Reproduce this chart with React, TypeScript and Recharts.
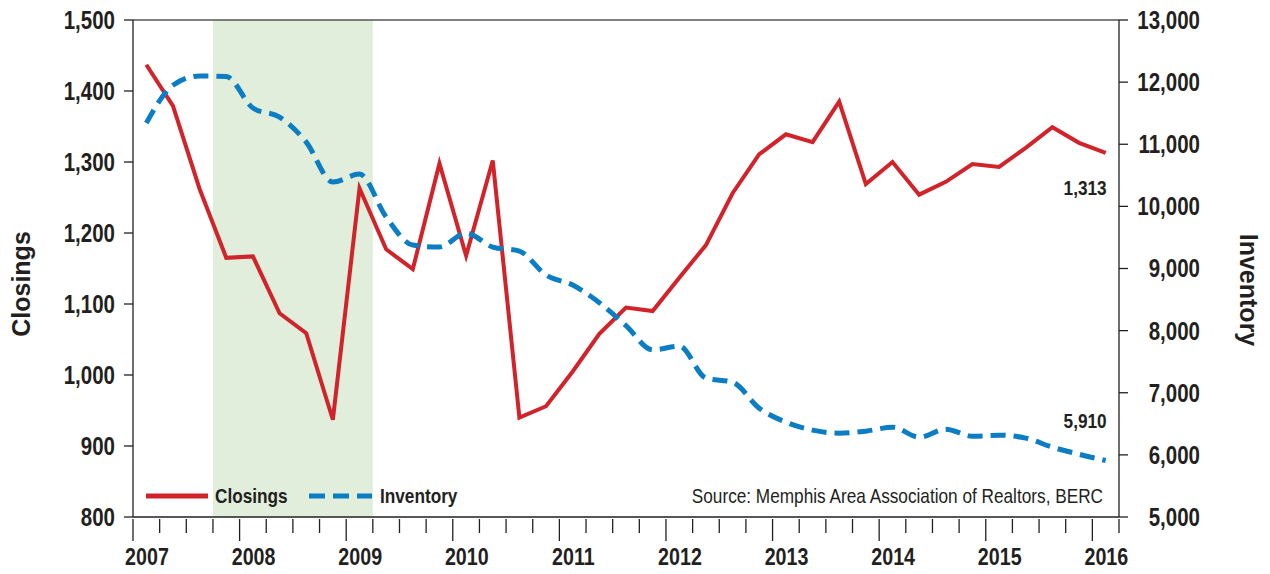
import { ComposedChart, Line, XAxis, YAxis, ReferenceArea, ReferenceLine, ReferenceDot } from 'recharts'

const SANS = '"Liberation Sans", Arial, Helvetica, sans-serif'
const SQUEEZE = 0.82 // no condensed face installed, so squeeze Liberation Sans
const INK = '#231F20'
const RED = '#D2232A'
const BLUE = '#0A7DC4'
const SHADE = '#E1EEDC'

// quarterly points, Q1 2007 .. Q1 2016
const quarters = [
  '2007Q1', '2007Q2', '2007Q3', '2007Q4',
  '2008Q1', '2008Q2', '2008Q3', '2008Q4',
  '2009Q1', '2009Q2', '2009Q3', '2009Q4',
  '2010Q1', '2010Q2', '2010Q3', '2010Q4',
  '2011Q1', '2011Q2', '2011Q3', '2011Q4',
  '2012Q1', '2012Q2', '2012Q3', '2012Q4',
  '2013Q1', '2013Q2', '2013Q3', '2013Q4',
  '2014Q1', '2014Q2', '2014Q3', '2014Q4',
  '2015Q1', '2015Q2', '2015Q3', '2015Q4',
  '2016Q1',
]

const closings = [
  1437, 1379, 1262, 1165, 1167, 1087, 1059, 937, 1263, 1177, 1149, 1298,
  1168, 1302, 940, 956, 1005, 1058, 1095, 1090, 1137, 1183, 1256, 1311,
  1339, 1328, 1385, 1269, 1300, 1254, 1272, 1297, 1293, 1320, 1349, 1327, 1313,
]

const inventory = [
  11341, 11950, 12100, 12090, 11583, 11438, 11035, 10391, 10520, 9828, 9377, 9345,
  9570, 9345, 9280, 8894, 8733, 8450, 8080, 7690, 7750, 7235, 7170, 6752,
  6527, 6398, 6350, 6382, 6446, 6285, 6414, 6300, 6317, 6270, 6124, 6010, 5910,
]

const closingTicks = [800, 900, 1000, 1100, 1200, 1300, 1400, 1500]
const inventoryTicks = [5000, 6000, 7000, 8000, 9000, 10000, 11000, 12000, 13000]
const recession = ['2007Q4', '2009Q1']

const qTime = (q: string) => Number(q.slice(0, 4)) + (Number(q.slice(5)) - 0.5) / 4
const data = quarters.map((q, i) => ({ t: qTime(q), closings: closings[i], inventory: inventory[i] }))
const xTicks = [...quarters.map(q => qTime(q) - 0.125), qTime(quarters[quarters.length - 1]) + 0.125]
const xDomain = [xTicks[0], xTicks[xTicks.length - 1]]
const last = data[data.length - 1]

const fmt = (v: number) => v.toLocaleString('en-US')

// condensed-looking text: Liberation Sans squeezed horizontally
const Narrow = ({ x, y, anchor = 'start', size, bold = true, dy, children }: any) => (
  <text transform={`translate(${x},${y}) scale(${SQUEEZE},1)`} x={0} y={0} dy={dy}
    textAnchor={anchor} fill={INK}
    style={{ fontFamily: SANS, fontSize: size, fontWeight: bold ? 700 : 400 }}>
    {children}
  </text>
)

const XTick = ({ x, y, payload }: any) => {
  const v = payload.value
  const major = Math.abs(v - Math.round(v)) < 1e-6
  return (
    <g>
      <line x1={x} x2={x} y1={y + 2} y2={y + (major ? 24 : 16)} stroke={INK} strokeWidth={1.3} />
      {major && <Narrow x={x + 14} y={y + 48} anchor="middle" size={24}>{Math.round(v)}</Narrow>}
    </g>
  )
}

const LeftTick = ({ x, y, payload }: any) => (
  <Narrow x={x} y={y} dy="0.355em" anchor="end" size={25}>{fmt(payload.value)}</Narrow>
)

const RightTick = ({ x, y, payload }: any) => (
  <Narrow x={x + 64} y={y} dy="0.355em" anchor="end" size={25}>{fmt(payload.value)}</Narrow>
)

const note = (text: string, dx: number, dy: number) => (p: any) => (
  <Narrow x={p.viewBox.x + dx} y={p.viewBox.y + dy} anchor="end" size={21}>{text}</Narrow>
)

export default function App() {
  return (
    <div style={{ position: 'absolute', left: 0, top: 0, width: 1270, height: 574, background: '#fff' }}>
      <ComposedChart width={1270} height={574} data={data} margin={{ top: 20, right: 0, bottom: 0, left: 0 }}>
        <XAxis dataKey="t" type="number" domain={xDomain} ticks={xTicks} interval={0}
          tick={<XTick />} tickLine={false} tickSize={0} tickMargin={0} height={57}
          axisLine={{ stroke: INK, strokeWidth: 1.3 }} allowDataOverflow />
        <YAxis yAxisId="l" domain={[800, 1500]} ticks={closingTicks} width={133} interval={0}
          axisLine={{ stroke: INK, strokeWidth: 1.3 }} tickLine={{ stroke: INK, strokeWidth: 1.3 }}
          tickSize={9} tickMargin={9} tick={<LeftTick />} allowDataOverflow />
        <YAxis yAxisId="r" orientation="right" domain={[5000, 13000]} ticks={inventoryTicks} width={151} interval={0}
          axisLine={{ stroke: INK, strokeWidth: 1.3 }} tickLine={{ stroke: INK, strokeWidth: 1.3 }}
          tickSize={9} tickMargin={8} tick={<RightTick />} allowDataOverflow />
        <ReferenceArea yAxisId="l" x1={qTime(recession[0]) - 0.125} x2={qTime(recession[1]) + 0.125}
          y1={800} y2={1500} fill={SHADE} fillOpacity={1} stroke="none" />
        <ReferenceLine yAxisId="l" y={1500} stroke="#555" strokeWidth={1.3} />
        <Line yAxisId="l" type="linear" dataKey="closings" stroke={RED} strokeWidth={4}
          dot={false} activeDot={false} isAnimationActive={false} />
        <Line yAxisId="r" type="monotone" dataKey="inventory" stroke={BLUE} strokeWidth={5}
          strokeDasharray="15 8" dot={false} activeDot={false} isAnimationActive={false} />
        <ReferenceDot yAxisId="l" x={last.t} y={last.closings} r={0} fill="none" stroke="none"
          label={note(fmt(last.closings), 1, 42)} />
        <ReferenceDot yAxisId="r" x={last.t} y={last.inventory} r={0} fill="none" stroke="none"
          label={note(fmt(last.inventory), 1, -32)} />
      </ComposedChart>
      <svg width={1270} height={574} style={{ position: 'absolute', left: 0, top: 0, pointerEvents: 'none' }}>
        <text transform="translate(30,284) rotate(-90)" textAnchor="middle" fill={INK}
          style={{ fontFamily: SANS, fontSize: 25, fontWeight: 700 }}>Closings</text>
        <text transform="translate(1240,290) rotate(90)" textAnchor="middle" fill={INK}
          style={{ fontFamily: SANS, fontSize: 25, fontWeight: 700 }}>Inventory</text>
        <line x1={146} x2={208} y1={496} y2={496} stroke={RED} strokeWidth={5} />
        <Narrow x={215} y={503} size={21}>Closings</Narrow>
        <line x1={309} x2={372} y1={496} y2={496} stroke={BLUE} strokeWidth={5} strokeDasharray="16 8" />
        <Narrow x={380} y={503} size={21}>Inventory</Narrow>
        <Narrow x={1103} y={503} anchor="end" size={21} bold={false}>Source: Memphis Area Association of Realtors, BERC</Narrow>
      </svg>
    </div>
  )
}
